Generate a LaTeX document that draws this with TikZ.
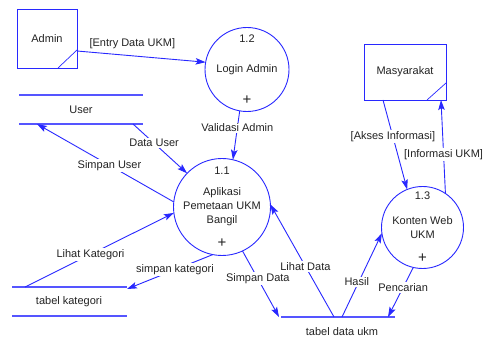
\documentclass[tikz,border=0pt]{standalone}
\usepackage{fontspec}
\setmainfont{Liberation Sans}
\usetikzlibrary{arrows.meta}
\definecolor{flowblue}{RGB}{40,40,255}
\definecolor{storeblue}{RGB}{85,85,255}
\definecolor{ink}{RGB}{35,35,35}

\begin{document}
\begin{tikzpicture}[x=1pt,y=-1pt,
  font=\fontsize{11}{14}\selectfont,
  every node/.style={inner sep=0pt, outer sep=0pt, text=ink},
  proc/.style={circle, draw=flowblue, line width=0.9pt, align=center},
  ent/.style={rectangle, draw=flowblue, line width=0.9pt},
  storeline/.style={draw=storeblue, line width=1.5pt},
  thin/.style={draw=flowblue, line width=0.7pt},
  plusmark/.style={font=\fontsize{15}{15}\selectfont},
  flow/.style={draw=flowblue, line width=0.9pt,
    -{Stealth[length=10pt,width=6.5pt,inset=2pt]}},
  lbl/.style={fill=white, inner sep=1.2pt},
]
\useasboundingbox[fill=white] (0,0) rectangle (486,344);

% external entities
\node[ent, minimum width=60pt, minimum height=59pt] (adm) at (47,38.5) {Admin};
\draw[thin] ([xshift=-19pt]adm.south east) -- ([yshift=18pt]adm.south east);
\node[ent, minimum width=82pt, minimum height=56pt] (mas) at (405,72) {Masyarakat};
\draw[thin] ([xshift=-19pt]mas.south east) -- ([yshift=17pt]mas.south east);

% processes
\node[proc, minimum size=84pt] (c12) at (247,69.5) {Login Admin};
\node at ([yshift=30.5pt]c12.center) {1.2};
\node[plusmark] at ([yshift=-30.5pt]c12.center) {+};

\node[proc, minimum size=97pt] (c11) at (222,207) {Aplikasi\\Pemetaan UKM\\Bangil};
\node at ([yshift=36pt]c11.center) {1.1};
\node[plusmark] at ([yshift=-36pt]c11.center) {+};

\node[proc, minimum size=82pt] (c13) at (422.5,227.5) {Konten Web\\UKM};
\node at ([yshift=31.5pt]c13.center) {1.3};
\node[plusmark] at ([yshift=-30.5pt]c13.center) {+};

% data stores
\draw[storeline] (19,95) -- (143,95);
\draw[storeline] (19,124) -- (143,124);
\node (usr) at (81,110) {User};
\coordinate (usrIn) at (133,124);
\coordinate (usrOut) at (37,124);

\draw[storeline] (12,287) -- (127,287);
\draw[storeline] (12,316) -- (127,316);
\node (kat) at (69,302) {tabel kategori};
\coordinate (katOut) at (25,287);
\coordinate (katIn) at (127,289);

\draw[storeline] (281,317) -- (395,317);
\node (dat) at (342,332) {tabel data ukm};
\coordinate (datA) at (279,317);
\coordinate (datB) at (334,317);
\coordinate (datC) at (342,317);
\coordinate (datD) at (388,317);

% entity anchors
\coordinate (admOut) at ([yshift=-12.5pt]adm.east);
\coordinate (masOut) at ([xshift=19pt]mas.south west);
\coordinate (masIn) at ([xshift=-5pt]mas.south east);

% data flows
\draw[flow] (admOut) -- node[pos=0.43, yshift=12pt] {[Entry Data UKM]} (c12.170);
\draw[flow] (c12.260) -- node[lbl, pos=0.35] {Validasi Admin} (c11.77);
\draw[flow] (usrIn) -- node[lbl, pos=0.39] {Data User} (c11.136);
\draw[flow] (c11.174) -- node[lbl, pos=0.47] {Simpan User} (usrOut);
\draw[flow] (katOut) -- node[lbl, pos=0.44] {Lihat Kategori} (c11.187);
\draw[flow] (c11.259) -- node[lbl, pos=0.44] {simpan kategori} (katIn);
\draw[flow] (c11.295) -- node[lbl, pos=0.42] {Simpan Data} (datA);
\draw[flow] (datB) -- node[lbl, pos=0.45] {Lihat Data} (c11.3);
\draw[flow] (datC) -- node[lbl, pos=0.42, xshift=-2pt] {Hasil} (c13.188);
\draw[flow] (c13.257) -- node[lbl, pos=0.4] {Pencarian} (datD);
\draw[flow] (masOut) -- node[lbl, pos=0.41] {[Akses Informasi]} (c13.112);
\draw[flow] (c13.56) -- node[lbl, pos=0.42] {[Informasi UKM]} (masIn);
\end{tikzpicture}
\end{document}
